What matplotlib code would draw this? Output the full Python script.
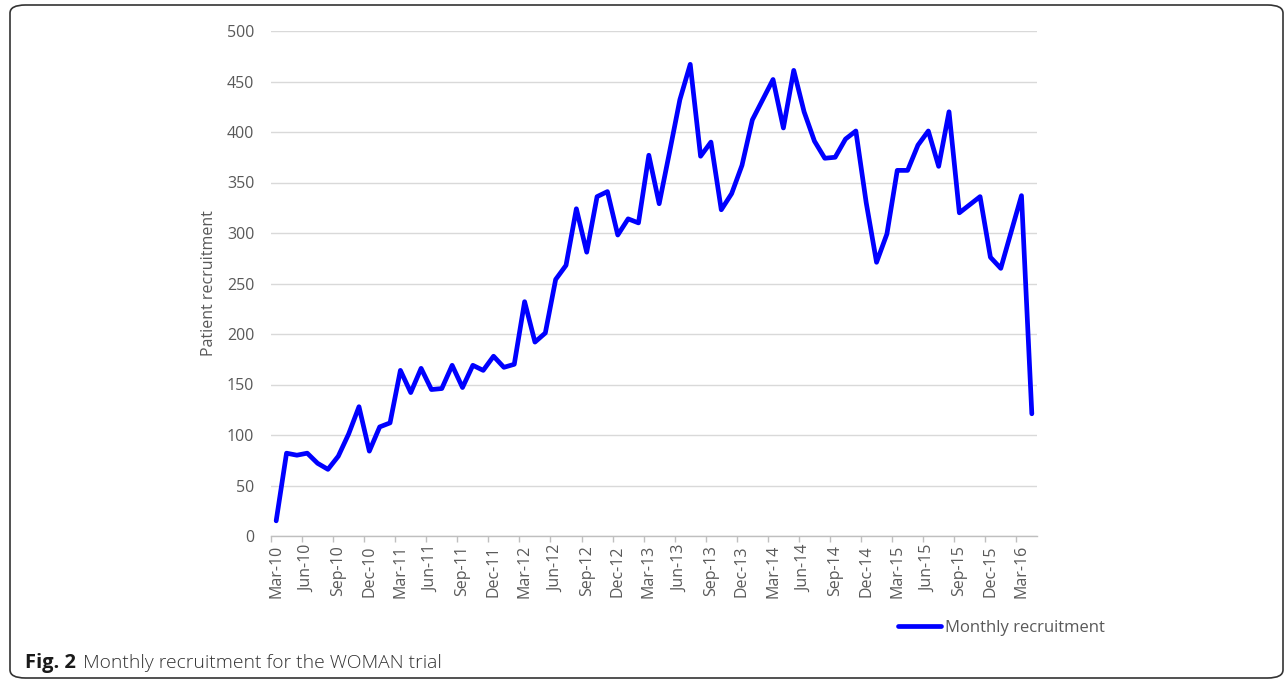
import numpy as np
import pandas as pd
import matplotlib
matplotlib.use("Agg")
import matplotlib.pyplot as plt
from matplotlib.patches import FancyBboxPatch
from matplotlib.ticker import FixedLocator

# monthly recruitment, Mar-10 .. Apr-16
months = pd.date_range("2010-03-01", periods=74, freq="MS")
recruitment = [
    15, 82, 80, 82, 72, 66, 79, 101, 128, 84, 108, 112,
    164, 142, 166, 145, 146, 169, 147, 169, 164, 178, 167, 170,
    232, 192, 201, 254, 268, 324, 281, 336, 341, 298, 314, 310,
    377, 329, 380, 432, 467, 376, 390, 323, 339, 367, 412, 432,
    452, 404, 461, 420, 391, 374, 375, 393, 401, 330, 271, 299,
    362, 362, 387, 401, 366, 420, 320, 328, 336, 276, 265, 301,
    337, 121,
]
series_name = "Monthly recruitment"
y_label = "Patient recruitment"
y_ticks = [0, 50, 100, 150, 200, 250, 300, 350, 400, 450, 500]

grey_txt = "#595959"
font = ["Open Sans", "DejaVu Sans"]
plt.rcParams["font.family"] = font

W, H = 1287, 680
fig = plt.figure(figsize=(W / 100, H / 100), dpi=100)
ax = fig.add_axes([271 / W, 1 - 536 / H, (1037 - 271) / W, (536 - 31) / H])

x = np.arange(len(recruitment))
line, = ax.plot(x, recruitment, color="#0000ff", lw=3.4,
                solid_joinstyle="round", solid_capstyle="round",
                label=series_name)

ax.set_xlim(-0.5, len(recruitment) - 0.5)
ax.set_ylim(0, 500)
ax.set_yticks(y_ticks)
ax.grid(axis="y", color="#d9d9d9", lw=1)
ax.set_axisbelow(True)

major = list(range(0, len(recruitment), 3))
ax.xaxis.set_major_locator(FixedLocator(major))
ax.set_xticklabels([months[i].strftime("%b-%y") for i in major], rotation=90)
ax.xaxis.set_minor_locator(FixedLocator([i - 0.5 for i in major]))
ax.tick_params(axis="x", which="major", length=0, pad=6.5,
               labelsize=11.5, labelcolor=grey_txt)
ax.tick_params(axis="x", which="minor", length=4, width=1,
               color="#bfbfbf", direction="out")
ax.tick_params(axis="y", length=0, pad=12, labelsize=11.5,
               labelcolor=grey_txt)

for s in ["left", "right", "top"]:
    ax.spines[s].set_visible(False)
ax.spines["bottom"].set_color("#bfbfbf")
ax.spines["bottom"].set_linewidth(1)

ax.set_ylabel(y_label, fontsize=11.5, color=grey_txt, labelpad=7)

fig.legend(handles=[line], loc="center left",
           bbox_to_anchor=(883 / W, 1 - 628 / H), frameon=False,
           handlelength=2.6, handletextpad=0.2, fontsize=12,
           labelcolor=grey_txt)

# caption
fig.text(25 / W, 1 - 668 / H, "Fig. 2", fontsize=14.5, fontweight="bold",
         va="baseline", ha="left", color="#1a1a1a")
fig.text(83 / W, 1 - 668 / H, "Monthly recruitment for the WOMAN trial",
         fontsize=13.9, fontweight="light", va="baseline", ha="left",
         color="#333333")

# outer rounded frame
frame = FancyBboxPatch((10 / W, 2 / H), (1283 - 10) / W, (H - 7) / H,
                       boxstyle="round,pad=0,rounding_size=0.012",
                       transform=fig.transFigure, fill=False,
                       ec="#333333", lw=1.2)
fig.patches.append(frame)

fig.savefig("out.png", dpi=100)
